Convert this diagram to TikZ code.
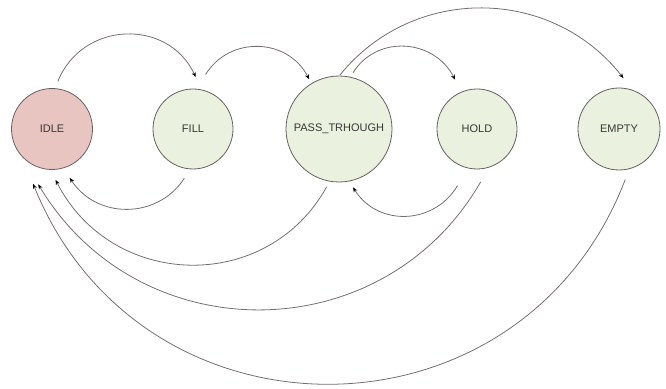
\documentclass[tikz,border=0pt]{standalone}
\usepackage{fontspec}
\setmainfont{Liberation Sans}
\usetikzlibrary{arrows.meta,calc}
\definecolor{idlefill}{RGB}{232,197,193}
\definecolor{statefill}{RGB}{234,241,222}
\definecolor{border}{RGB}{104,96,96}
\definecolor{linegray}{RGB}{118,110,110}
\definecolor{txt}{RGB}{55,55,55}
\begin{document}
\begin{tikzpicture}[x=1pt,y=1pt,
  state/.style={circle,draw=border,line width=0.8pt,fill=statefill,inner sep=0pt,
    font=\fontsize{11}{13}\selectfont,text=txt},
  edge/.style={draw=linegray,line width=0.8pt,-{Stealth[length=5pt,width=4pt,color=black]}}]
\useasboundingbox (0,0) rectangle (666,388);
\node[state,fill=idlefill,minimum size=81pt] (IDLE) at (52,259) {IDLE};
\node[state,minimum size=80pt] (FILL) at (193,259) {FILL};
\node[state,minimum size=106pt] (PASS) at (339,259) {PASS\_TRHOUGH};
\node[state,minimum size=80pt] (HOLD) at (477,259) {HOLD};
\node[state,minimum size=82pt] (EMPTY) at (619,259) {EMPTY};
% upper arcs
\draw[edge] ($(IDLE)+(83:48)$) to[out=68,in=115,looseness=1.21] ($(FILL)+(87:52)$);
\draw[edge] ($(FILL)+(77:56)$) to[out=58,in=117,looseness=1.14] ($(PASS)+(121:58)$);
\draw[edge] ($(PASS)+(76:58)$) to[out=58,in=117,looseness=1.14] ($(HOLD)+(114:54)$);
\draw[edge] ($(PASS)+(89:54)$) to[out=51,in=128,looseness=1.05] ($(EMPTY)+(85:51)$);
% lower arcs
\draw[edge] ($(FILL)+(260:50)$) to[out=-123,in=-57,looseness=1.10] ($(IDLE)+(290:52)$);
\draw[edge] ($(PASS)+(258:59)$) to[out=-119,in=-63,looseness=1.16] ($(IDLE)+(274:51)$);
\draw[edge] ($(HOLD)+(251:60)$) to[out=-121,in=-58,looseness=1.13] ($(PASS)+(283.5:60)$);
\draw[edge] ($(HOLD)+(274:53)$) to[out=-120,in=-59,looseness=1.13] ($(IDLE)+(256:57)$);
\draw[edge] ($(EMPTY)+(277:51)$) to[out=-111,in=-68,looseness=1.25] ($(IDLE)+(251:58)$);
\end{tikzpicture}
\end{document}
